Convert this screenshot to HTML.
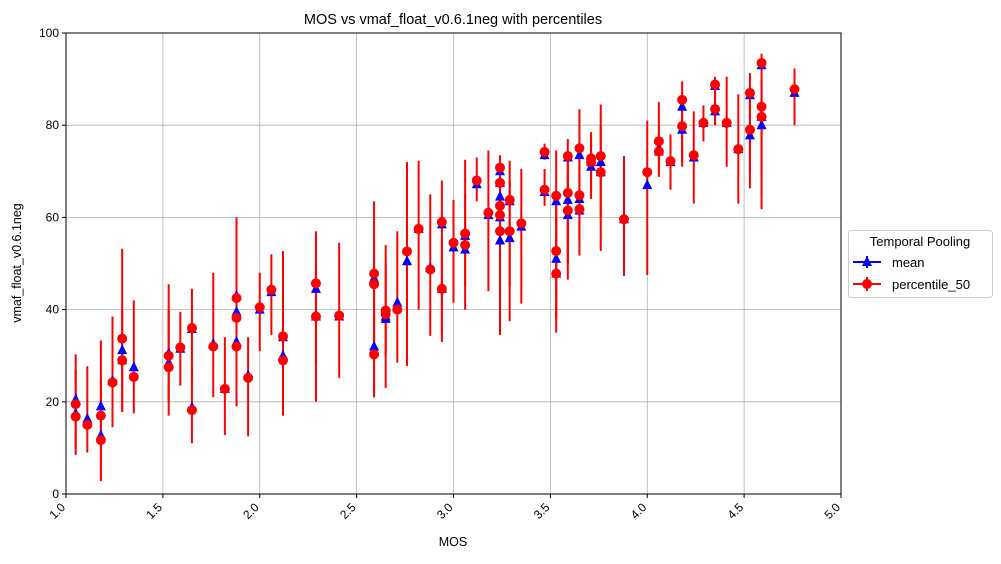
<!DOCTYPE html>
<html><head><meta charset="utf-8"><style>
body{margin:0;background:#fff;}
svg{font-family:"Liberation Sans","DejaVu Sans",sans-serif;}
</style></head><body>
<svg id="c" width="1001" height="559" xmlns="http://www.w3.org/2000/svg"></svg>
<script>
const mos =   [1.05,1.05,1.11,1.18,1.18,1.24,1.29,1.29,1.35,1.53,1.53,1.59,1.65,1.65,1.76,1.82,1.88,1.88,1.88,1.94,2.0,2.06,2.12,2.12,2.29,2.29,2.41,2.59,2.59,2.59,2.65,2.65,2.71,2.76,2.82,2.88,2.94,2.94,3.0,3.06,3.06,3.12,3.18,3.24,3.24,3.24,3.24,3.24,3.29,3.29,3.35,3.47,3.47,3.53,3.53,3.53,3.59,3.59,3.59,3.65,3.65,3.65,3.71,3.71,3.76,3.76,3.88,4.0,4.06,4.06,4.12,4.18,4.18,4.24,4.29,4.35,4.35,4.41,4.47,4.53,4.53,4.59,4.59,4.59,4.76];
const meanV = [20.5,17.5,16.3,19,12.7,24.5,31.2,29,27.5,30.5,28.5,31.5,35.8,18.8,32.5,22.8,43,39.5,33,25.7,40,43.8,34,30,44.5,38.5,38.5,46.8,46,32,38,38.5,41.5,50.5,57.5,49,58.5,44.5,53.5,56,53,67.2,60.5,70,67.5,64.5,60,55,63.5,55.5,58,73.5,65.5,63.5,51,47.8,73,63.8,60.5,73.5,64,61.5,71,72,72,69.8,59.6,67,75,74.3,72,84,79,73,80.5,88.5,83,80.5,74.8,86.5,77.8,93,80,81.8,87];
const p50V =  [19.5,16.8,15,17,11.7,24.2,33.7,29,25.4,30,27.5,31.8,36,18.2,32,22.8,42.5,38.2,32,25.2,40.5,44.3,34.2,29,45.7,38.5,38.7,47.8,45.5,30.3,39.8,39,40,52.6,57.5,48.7,59,44.5,54.5,56.5,54,68,61,70.8,67.5,62.5,60.5,57,63.8,57,58.7,74.2,66,64.7,52.7,47.8,73.3,65.3,61.5,75,64.8,61.8,72.8,72,73.3,69.8,59.6,69.8,76.5,74.3,72.2,85.5,79.8,73.5,80.5,88.8,83.5,80.5,74.8,87,79,93.5,84,81.8,87.8];
const errLo = [8.5,10,9,2.8,3,14.5,17.8,18,17.5,17,20,23.5,25,11,21,12.8,19,25,24,12.5,31,34.5,17,20,20,28,25.2,21,30,22,23,30,28.5,27.8,40,34.3,33,35,41.5,40,45,63.5,44,34.5,50,45,45,40,37.5,45,41.3,72.5,62.5,35,40,38,46.5,50,50,51.7,55,55,64,66,52.7,60,47.3,47.5,68.8,70,66,71,72,63,76.5,80,80,71,63,66.3,70,61.8,65,70,80];
const errHi = [30.3,27,27.7,33.3,25,38.5,53.2,40,42,45.5,40,39.5,44.5,27,48,34,60,50,45,34,48,52,52.7,45,57,50,54.5,63.5,55,40,54,50,57,72,72.3,65,68,55,63.8,72.5,65,73,74.5,73.5,72,70,68,65,72.3,68,70.5,76,70.5,74.5,65,60,77,72,70,83.5,75,72,78.5,77,84.5,80,73.3,81,85,80,78,89.5,85,83,84.3,90.5,88,90.5,86.7,91.3,85,95.5,90,90,92.3];
const xTicks = [1.0,1.5,2.0,2.5,3.0,3.5,4.0,4.5,5.0];
const yTicks = [0,20,40,60,80,100];

const L=66,R=841,T=33,B=494;
const X=v=>L+(v-1)/4*(R-L);
const Y=v=>B-v/100*(B-T);
const svg=document.getElementById('c');
const NS='http://www.w3.org/2000/svg';
function mk(tag,attrs,parent){const e=document.createElementNS(NS,tag);for(const k in attrs)e.setAttribute(k,attrs[k]);(parent||svg).appendChild(e);return e;}

const grid=mk('g',{});


xTicks.forEach(t=>{mk('line',{x1:X(t),x2:X(t),y1:T,y2:B,stroke:'#b0b0b0','stroke-width':0.8},grid);});
yTicks.forEach(t=>{mk('line',{x1:L,x2:R,y1:Y(t),y2:Y(t),stroke:'#b0b0b0','stroke-width':0.8},grid);});

const errs=mk('g',{});


mos.forEach((m,i)=>{mk('line',{x1:X(m),x2:X(m),y1:Y(errLo[i]),y2:Y(errHi[i]),stroke:'#ff0000','stroke-width':2},errs);});

const means=mk('g',{});


mos.forEach((m,i)=>{const x=X(m),y=Y(meanV[i]);
 const p=mk('polygon',{points:`${x},${y-6} ${x-5},${y+4} ${x+5},${y+4}`,fill:'#0000ff'},means);
 
 });

const meds=mk('g',{});


mos.forEach((m,i)=>{
 const c=mk('circle',{cx:X(m),cy:Y(p50V[i]),r:5,fill:'#ff0000'},meds);
 
 });

mk('rect',{x:L,y:T,width:R-L,height:B-T,fill:'none',stroke:'#000','stroke-width':1});

const xa=mk('g',{});


xTicks.forEach(t=>{const x=X(t);mk('line',{x1:x,x2:x,y1:B,y2:B+4,stroke:'#000'},xa);
 const tx=mk('text',{x:x,y:B+14,'font-size':12,'text-anchor':'end',transform:`rotate(-45 ${x} ${B+14})`},xa);tx.textContent=t.toFixed(1);
 
 });
const ya=mk('g',{});


yTicks.forEach(t=>{const y=Y(t);mk('line',{x1:L-4,x2:L,y1:y,y2:y,stroke:'#000'},ya);
 const tx=mk('text',{x:L-7,y:y+4,'font-size':12,'text-anchor':'end'},ya);tx.textContent=t;
 
 });
</script>
<svg style="position:absolute;left:0;top:0" width="1001" height="559" xmlns="http://www.w3.org/2000/svg">
<text x="453" y="24" font-size="14.5" text-anchor="middle" font-family="Liberation Sans, sans-serif">MOS vs vmaf_float_v0.6.1neg with percentiles</text>
<text x="453" y="546" font-size="12.5" text-anchor="middle" font-family="Liberation Sans, sans-serif">MOS</text>
<text x="21" y="263" font-size="12.5" text-anchor="middle" transform="rotate(-90 21 263)" font-family="Liberation Sans, sans-serif">vmaf_float_v0.6.1neg</text>
<g font-family="Liberation Sans, sans-serif">
<rect x="848.5" y="230.5" width="144" height="67" rx="3" fill="#fff" stroke="#ccc"/>
<text x="920" y="246" font-size="13" text-anchor="middle">Temporal Pooling</text>
<g>
<line x1="853" x2="881" y1="262" y2="262" stroke="#0000ff" stroke-width="2"/>
<line x1="867" x2="867" y1="256" y2="268" stroke="#0000ff" stroke-width="2"/>
<polygon points="867,256 862,266 872,266" fill="#0000ff"/>
<text x="892" y="267" font-size="13">mean</text></g>
<g>
<line x1="853" x2="881" y1="284" y2="284" stroke="#ff0000" stroke-width="2"/>
<line x1="867" x2="867" y1="277" y2="291" stroke="#ff0000" stroke-width="2"/>
<circle cx="867" cy="284" r="5" fill="#ff0000"/>
<text x="892" y="289" font-size="13">percentile_50</text></g>
</g>
</svg>
</body></html>
